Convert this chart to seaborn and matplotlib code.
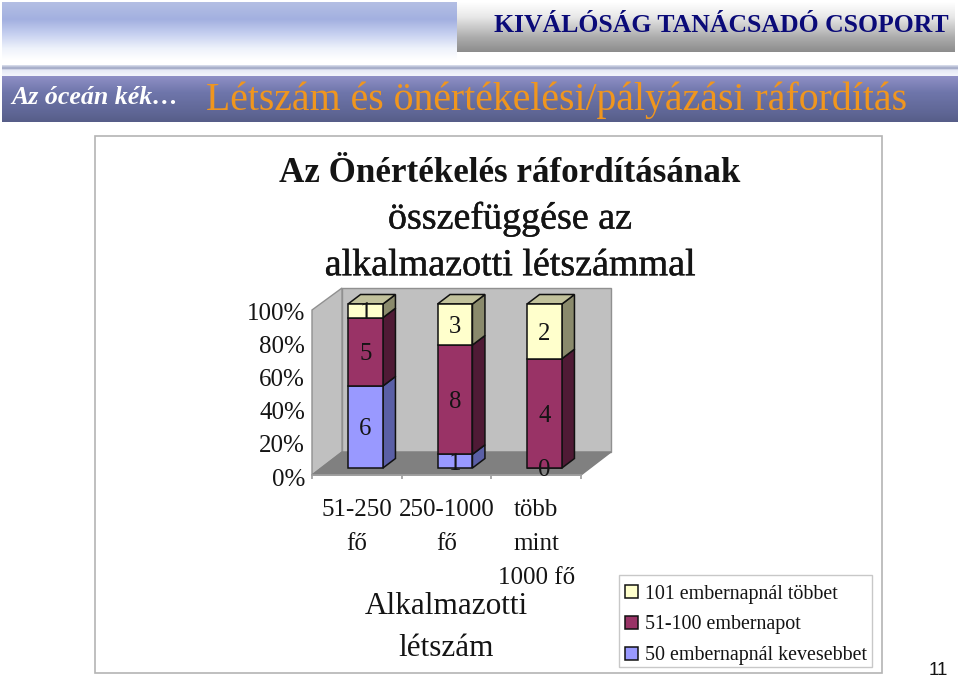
import numpy as np
import pandas as pd
import matplotlib
matplotlib.use('Agg')
import matplotlib.pyplot as plt
from matplotlib.patches import Polygon, Rectangle
from matplotlib.transforms import ScaledTranslation
import matplotlib.patheffects as pe
import seaborn as sns

# values
categories = ['51-250\nfő', '250-1000\nfő', 'több\nmint\n1000 fő']
low = [6, 1, 0]
mid = [5, 8, 4]
high = [1, 3, 2]
series_names = ['50 embernapnál kevesebbet', '51-100 embernapot', '101 embernapnál többet']
y_ticks = [0, 20, 40, 60, 80, 100]

face_colors = ['#9999ff', '#993366', '#ffffcc']
side_colors = ['#5a5fa6', '#4f1a35', '#8a8a6c']
top_colors = ['#7c7cc8', '#7a2a52', '#c2c29c']
ink = '#141414'

W, H = 960, 679
sns.set_theme(style='white')
plt.rcParams['font.family'] = ['Liberation Serif', 'DejaVu Serif']

fig = plt.figure(figsize=(W / 100, H / 100), dpi=100)


def px_axes(x0, y0, x1, y1, **kw):
    # axes placed by pixel box, y measured from the top of the picture
    return fig.add_axes([x0 / W, 1 - y1 / H, (x1 - x0) / W, (y1 - y0) / H], **kw)


bg = px_axes(0, 0, W, H)
bg.set_xlim(0, W)
bg.set_ylim(H, 0)
bg.axis('off')


def gradient(stops, box, zorder=1):
    ys = np.linspace(0, 1, 200)
    pos = [s[0] for s in stops]
    img = np.stack([np.interp(ys, pos, [matplotlib.colors.to_rgb(s[1])[i] for s in stops]) for i in range(3)], axis=1)
    bg.imshow(img[:, None, :], extent=[box[0], box[2], box[3], box[1]], aspect='auto', zorder=zorder)


# header bands
gradient([(0, '#b4bfe4'), (0.3, '#a3b0e0'), (0.55, '#c6d0f0'), (0.8, '#eef2fb'), (1, '#ffffff')], (2, 2, 457, 60))
gradient([(0, '#ffffff'), (0.3, '#e8e8e8'), (0.7, '#adadad'), (1, '#8c8c8c')], (457, 2, 955, 52), zorder=2)
gradient([(0, '#dfe3f0'), (0.3, '#9aa2c0'), (0.45, '#e6e9f5'), (1, '#f4f6fc')], (2, 65, 958, 76))
gradient([(0, '#8f90c6'), (0.35, '#6f76ab'), (0.8, '#5f6695'), (1, '#565d88')], (2, 76, 958, 122))
bg.set_xlim(0, W)
bg.set_ylim(H, 0)

bg.text(949, 26, 'KIVÁLÓSÁG TANÁCSADÓ CSOPORT', ha='right', va='center', fontsize=18.5,
        fontweight='bold', color='#0a0a78', zorder=3)
bg.text(11, 97, 'Az óceán kék…', ha='left', va='center', fontsize=18.6, fontweight='bold',
        style='italic', color='white', zorder=3)
bg.text(206, 100, 'Létszám és önértékelési/pályázási ráfordítás', ha='left', va='center', fontsize=28.62,
        color='#f0961e', zorder=3)

# slide frame around the chart
bg.add_patch(Rectangle((94.5, 135.5), 787, 537, fc='white', ec='#b4b4b4', lw=1.2, zorder=2))

# chart title
heavy = [pe.withStroke(linewidth=0.3, foreground=ink)]
bg.text(510, 174, 'Az Önértékelés ráfordításának', ha='center', va='center', fontsize=25.2, fontweight='bold',
        color=ink, zorder=3)
bg.text(510, 219, 'összefüggése az', ha='center', va='center', fontsize=27.4, color=ink, zorder=3,
        path_effects=heavy)
bg.text(510, 266, 'alkalmazotti létszámmal', ha='center', va='center', fontsize=27.4, color=ink, zorder=3,
        path_effects=heavy)

# 3d walls and floor of the plot
bg.add_patch(Polygon([(342, 288), (611, 288), (611, 452), (342, 452)], fc='#c0c0c0', ec='#909090', lw=1, zorder=3))
bg.add_patch(Polygon([(312, 310), (342, 288), (342, 452), (312, 475)], fc='#c0c0c0', ec='#909090', lw=1, zorder=3))
bg.add_patch(Polygon([(312, 475), (342, 452), (611, 452), (581, 475)], fc='#808080', ec='#808080', lw=1, zorder=3))

# axis with the percent ticks and group names, on the front left corner of the box
ax_w = px_axes(312, 310, 581, 475)
ax_w.patch.set_alpha(0)
ax_w.set_xlim(0, 3)
ax_w.set_ylim(0, 100)
ax_w.set_yticks(y_ticks)
ax_w.set_yticklabels([f'{t}%' for t in y_ticks], fontsize=18, color=ink)
ax_w.set_xticks([0, 1, 2, 3])
ax_w.set_xticklabels([])
ax_w.set_xticks([0.5, 1.5, 2.5], minor=True)
ax_w.set_xticklabels(categories, minor=True, fontsize=18, color=ink, linespacing=1.72)
ax_w.tick_params(axis='y', length=0, pad=5)
ax_w.tick_params(axis='x', which='major', length=3, color='#a0a0a0', direction='out', bottom=True)
ax_w.tick_params(axis='x', which='minor', length=0, pad=17)
for lab in ax_w.get_yticklabels():
    lab.set_va('center')
    lab.set_transform(lab.get_transform() + ScaledTranslation(0, -4.5 / 100, fig.dpi_scale_trans))
for name, spine in ax_w.spines.items():
    spine.set_visible(name == 'bottom')
    spine.set_color('#a0a0a0')

# stacked bars
df = pd.DataFrame({'cat': categories, 'low': low, 'mid': mid, 'high': high})
total = df[['low', 'mid', 'high']].sum(axis=1)
ax = px_axes(320.75, 304, 589.25, 468)
ax.patch.set_alpha(0)
bottom = np.zeros(len(df))
for col, name, fc in zip(['low', 'mid', 'high'], series_names, face_colors):
    pct = (df[col] / total * 100).to_numpy()
    sns.barplot(x=df['cat'], y=pct, bottom=bottom, color=fc, saturation=1, width=0.39, edgecolor='#111111',
                linewidth=1.1, label=name, legend=False, ax=ax, zorder=3)
    bottom = bottom + pct
ax.set_xlim(-0.5, 2.5)
ax.set_ylim(0, 100)
ax.set_xlabel('')
ax.set_ylabel('')
ax.set_yticks([])
ax.set_xticks(range(len(categories)))
ax.set_xticklabels([])
ax.tick_params(axis='x', length=0)
sns.despine(ax=ax, left=True, bottom=True)

# side and top faces of every bar, pushed back from the drawn rectangles
dx, dy = 12.5 / (268.5 / 3), 9.5 * 100 / 164
n = len(categories)
for s, (bars, side, top) in enumerate(zip([ax.patches[i * n:(i + 1) * n] for i in range(3)], side_colors, top_colors)):
    for b in bars:
        x0, x1 = b.get_x(), b.get_x() + b.get_width()
        y0, y1 = b.get_y(), b.get_y() + b.get_height()
        if y1 - y0 <= 0:
            continue
        ax.add_patch(Polygon([(x1, y0), (x1 + dx, y0 + dy), (x1 + dx, y1 + dy), (x1, y1)], fc=side, ec='#111111',
                             lw=1.1, zorder=2.5, clip_on=False))
        if s == 2:
            ax.add_patch(Polygon([(x0, y1), (x0 + dx, y1 + dy), (x1 + dx, y1 + dy), (x1, y1)], fc=top, ec='#111111',
                                 lw=1.1, zorder=2.5, clip_on=False))
for b in ax.patches:
    b.set_clip_on(False)

# value labels
bottom = np.zeros(n)
for col in ['low', 'mid', 'high']:
    pct = (df[col] / total * 100).to_numpy()
    for i, v in enumerate(df[col]):
        ax.text(i, bottom[i] + pct[i] / 2 - 1.5, str(v), ha='center', va='center', fontsize=17.8,
                color=ink, zorder=5, clip_on=False)
    bottom = bottom + pct

# axis title
bg.text(446, 606, 'Alkalmazotti', ha='center', va='center', fontsize=22.5, color=ink, zorder=3)
bg.text(446, 648, 'létszám', ha='center', va='center', fontsize=22.5, color=ink, zorder=3)

# legend, top entry first as in the chart; its box sits apart since the entries are not centred in it
bg.add_patch(Rectangle((618.5, 574.5), 253, 92, fc='white', ec='#c8c8c8', lw=1, zorder=3))
handles = [ax.patches[i * n] for i in [2, 1, 0]]
leg = fig.legend(handles, series_names[::-1], loc='upper left', bbox_to_anchor=(618 / W, 1 - 577.5 / H),
                 borderaxespad=0, frameon=False, fontsize=14.4, labelspacing=0.59, handlelength=0.65,
                 handleheight=0.65, handletextpad=0.35, borderpad=0.36, labelcolor=ink)

bg.text(948, 675, '11', ha='right', va='baseline', fontsize=13.5, family='Liberation Sans', color=ink, zorder=3)

fig.savefig('out.png', dpi=100)
